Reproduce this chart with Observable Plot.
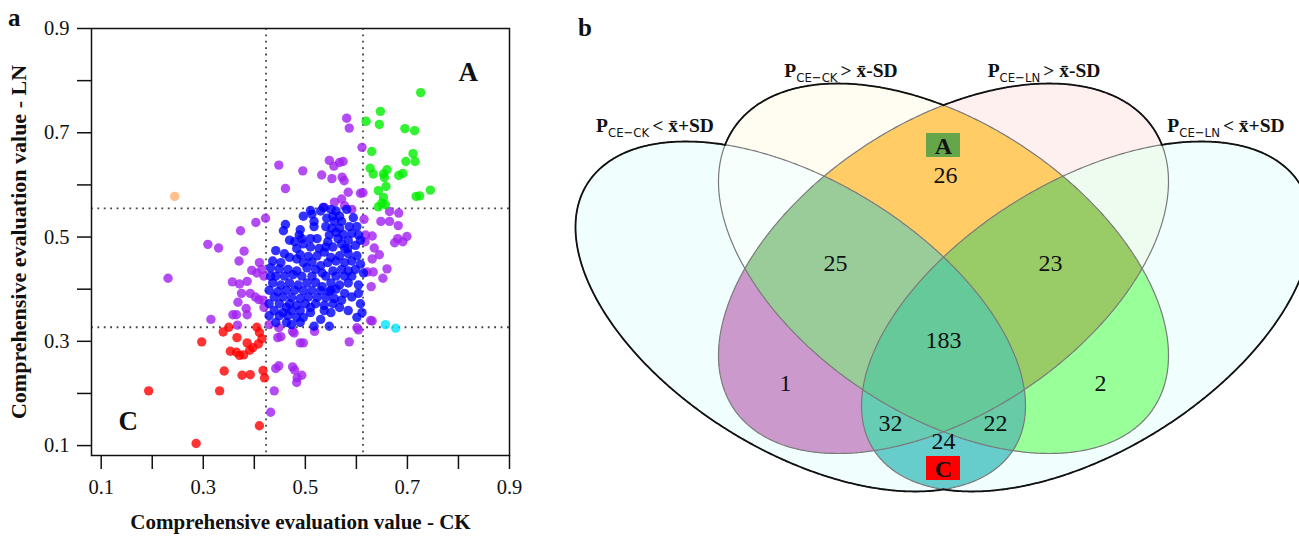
<!DOCTYPE html>
<html><head><meta charset="utf-8">
<script src="https://cdn.jsdelivr.net/npm/d3@7"></script>
<script src="https://cdn.jsdelivr.net/npm/@observablehq/plot@0.6"></script>
<style>
body{margin:0;background:#fff;}
#wrap{position:relative;width:1299px;height:537px;overflow:hidden;font-family:"Liberation Serif","Times New Roman",serif;color:#111;}
#pa{position:absolute;left:0;top:0;}
#pb{position:absolute;left:560px;top:0;}
.lbl{position:absolute;transform:translate(-50%,-50%);white-space:nowrap;font-weight:bold;font-size:19.5px;}
.sub{font-family:"DejaVu Sans Condensed","Liberation Sans Narrow","Liberation Sans",sans-serif;font-weight:normal;font-size:13px;position:relative;top:5px;margin-right:3px;}
.panel{position:absolute;font-weight:bold;font-size:25px;}
</style></head>
<body><div id="wrap"><div id="pa"></div><div id="pb"></div></div>
<script>
// ---------- Panel a data: [CK value, LN value] ----------
const bluePts = [
[0.510,0.551],[0.496,0.540],[0.513,0.544],[0.535,0.557],[0.550,0.553],[0.560,0.550],[0.581,0.553],[0.554,0.540],[0.567,0.540],[0.542,0.536],[0.557,0.530],[0.517,0.530],
[0.461,0.524],[0.457,0.512],[0.490,0.514],[0.488,0.504],[0.517,0.520],[0.540,0.520],[0.552,0.517],[0.567,0.517],[0.586,0.520],[0.601,0.520],[0.604,0.504],[0.591,0.507],[0.574,0.505],[0.560,0.509],[0.547,0.504],[0.493,0.497],
[0.510,0.497],[0.523,0.497],[0.496,0.487],[0.469,0.494],[0.483,0.478],[0.510,0.481],[0.527,0.478],[0.540,0.481],[0.554,0.481],[0.571,0.487],[0.584,0.494],[0.608,0.494],[0.598,0.484],[0.583,0.478],[0.564,0.497],
[0.442,0.474],[0.459,0.468],[0.469,0.461],[0.490,0.466],[0.506,0.463],[0.523,0.464],[0.537,0.471],[0.550,0.461],[0.567,0.464],[0.584,0.468],[0.601,0.464],[0.436,0.454],[0.452,0.451],[0.496,0.451],[0.513,0.452],[0.544,0.451],[0.560,0.454],[0.577,0.451],[0.591,0.454],[0.608,0.448],
[0.432,0.441],[0.449,0.439],[0.466,0.438],[0.483,0.435],[0.503,0.441],[0.520,0.438],[0.533,0.431],[0.554,0.435],[0.571,0.438],[0.584,0.435],[0.598,0.438],[0.442,0.425],[0.459,0.425],[0.476,0.428],[0.493,0.425],[0.513,0.425],[0.540,0.425],[0.560,0.425],[0.577,0.425],
[0.436,0.412],[0.452,0.408],[0.469,0.412],[0.486,0.408],[0.503,0.412],[0.520,0.413],[0.533,0.405],[0.550,0.412],[0.567,0.408],[0.584,0.412],[0.604,0.408],[0.429,0.398],[0.446,0.395],[0.463,0.398],[0.479,0.398],[0.496,0.397],[0.513,0.398],[0.530,0.397],[0.547,0.395],[0.560,0.400],
[0.439,0.385],[0.456,0.385],[0.473,0.384],[0.490,0.382],[0.506,0.385],[0.523,0.384],[0.540,0.384],[0.557,0.382],[0.571,0.379],[0.429,0.372],[0.449,0.372],[0.469,0.372],[0.483,0.369],[0.500,0.372],[0.520,0.372],[0.537,0.369],[0.554,0.372],[0.608,0.372],
[0.439,0.359],[0.456,0.355],[0.473,0.359],[0.490,0.359],[0.510,0.355],[0.537,0.359],[0.550,0.355],[0.611,0.355],[0.429,0.349],[0.449,0.349],[0.466,0.349],[0.483,0.346],[0.530,0.342],[0.601,0.346],[0.442,0.336],[0.463,0.336],[0.490,0.336],[0.517,0.329],[0.547,0.329],[0.473,0.332],
[0.530,0.550],[0.571,0.530],[0.594,0.537],[0.479,0.491],[0.544,0.491],[0.577,0.478],[0.483,0.458],[0.530,0.445],[0.614,0.431],[0.432,0.425],[0.550,0.398],[0.577,0.392],[0.591,0.385],[0.463,0.365],[0.510,0.365],[0.496,0.346],[0.567,0.365],[0.584,0.359],[0.604,0.392],[0.591,0.425]
];
const purplePts = [
[0.581,0.728],[0.586,0.709],[0.611,0.672],[0.448,0.638],[0.495,0.627],[0.547,0.647],[0.556,0.636],[0.567,0.643],[0.574,0.645],[0.532,0.619],[0.552,0.612],[0.572,0.615],[0.576,0.608],[0.461,0.593],[0.584,0.586],[0.608,0.584],[0.613,0.585],[0.557,0.567],[0.571,0.573],[0.577,0.560],[0.537,0.557],[0.591,0.553],
[0.422,0.536],[0.403,0.528],[0.373,0.512],[0.309,0.486],[0.330,0.479],[0.380,0.473],[0.370,0.454],[0.410,0.451],[0.231,0.421],[0.357,0.414],[0.371,0.410],[0.386,0.415],[0.395,0.436],[0.405,0.431],[0.392,0.392],[0.402,0.385],[0.409,0.380],[0.368,0.375],[0.384,0.363],[0.386,0.351],[0.358,0.351],[0.365,0.351],[0.315,0.342],[0.367,0.331],[0.415,0.438],[0.417,0.379],[0.419,0.365],[0.375,0.392],[0.419,0.425],
[0.615,0.534],[0.631,0.502],[0.648,0.530],[0.665,0.530],[0.683,0.546],[0.665,0.549],[0.682,0.522],[0.699,0.501],[0.691,0.491],[0.675,0.489],[0.681,0.497],[0.645,0.466],[0.635,0.479],[0.631,0.458],[0.621,0.433],[0.633,0.433],[0.652,0.421],[0.660,0.439],[0.629,0.405],[0.628,0.340],[0.631,0.339],[0.604,0.322],[0.586,0.299],[0.617,0.491],[0.618,0.504],
[0.448,0.326],[0.452,0.309],[0.446,0.307],[0.475,0.319],[0.478,0.316],[0.518,0.319],[0.490,0.297],[0.496,0.297],[0.442,0.248],[0.448,0.253],[0.475,0.251],[0.479,0.245],[0.484,0.230],[0.483,0.221],[0.493,0.235],[0.439,0.205],[0.432,0.164],[0.601,0.326],[0.429,0.332]
];
const greenPts = [
[0.726,0.777],[0.619,0.722],[0.647,0.741],[0.645,0.716],[0.695,0.708],[0.714,0.704],[0.630,0.664],[0.711,0.660],[0.697,0.645],[0.715,0.645],[0.627,0.632],[0.633,0.621],[0.653,0.621],[0.660,0.629],[0.655,0.614],[0.683,0.618],[0.691,0.622],[0.658,0.597],[0.745,0.590],[0.717,0.578],[0.724,0.579],[0.653,0.576],[0.650,0.565],[0.643,0.558],[0.657,0.562],[0.643,0.589]
];
const redPts = [
[0.350,0.327],[0.339,0.318],[0.366,0.307],[0.297,0.299],[0.405,0.327],[0.410,0.317],[0.415,0.305],[0.408,0.295],[0.397,0.288],[0.386,0.297],[0.353,0.281],[0.371,0.273],[0.379,0.274],[0.391,0.283],[0.341,0.243],[0.376,0.235],[0.392,0.236],[0.417,0.244],[0.420,0.230],[0.193,0.205],[0.332,0.205],[0.410,0.138],[0.286,0.104],[0.365,0.279]
];
const orangePts = [[0.244,0.578]];
const cyanPts = [[0.657,0.332],[0.677,0.325]];

const thresholdsCK = [0.423, 0.613];
const thresholdsLN = [0.555, 0.327];
const axisTicks = [0.1,0.2,0.3,0.4,0.5,0.6,0.7,0.8,0.9];
const axisTickLabels = [0.1,0.3,0.5,0.7,0.9];
const cornerLabels = [{label:"A", ck:0.819, ln:0.815}, {label:"C", ck:0.153, ln:0.147}];

// ---------- Panel b data ----------
const vennCounts = [
 {label:"26", x:385, y:175}, {label:"25", x:275, y:263}, {label:"23", x:490, y:263},
 {label:"183", x:383, y:340}, {label:"1", x:225, y:383}, {label:"2", x:540, y:383},
 {label:"32", x:330, y:423}, {label:"22", x:435, y:423}, {label:"24", x:383, y:441}
];
const vennBoxes = [{label:"A", x:383, y:145, fill:"#66a64a"}, {label:"C", x:383, y:468, fill:"#ff0000"}];
const vennSetLabels = [
 {sub:"CE\u2212CK", rel:"> x\u0304-SD", x:281, y:71},
 {sub:"CE\u2212LN", rel:"> x\u0304-SD", x:484, y:71},
 {sub:"CE\u2212CK", rel:"< x\u0304+SD", x:95, y:126},
 {sub:"CE\u2212LN", rel:"< x\u0304+SD", x:666, y:126}
];
// ellipse geometry (panel-local units): centre, x half-extent, y half-extent, tilt
const vennEllipses = [
 {cx:240, cy:316, rx:225, ry:175, k:0.51},
 {cx:383, cy:268, rx:225, ry:185, k:0.47},
 {cx:383, cy:268, rx:225, ry:185, k:-0.47},
 {cx:526, cy:316, rx:225, ry:175, k:-0.51}
];
const regionFill = {
 "0000":"#ffffff","1000":"#f0fefe","0001":"#f0fefe","0100":"#fffdf1","0010":"#fff0f0",
 "1100":"#f6fffb","0011":"#eefcef","1010":"#cc99cc","0101":"#99ff99","0110":"#ffcc66",
 "1110":"#99cc99","0111":"#99cc66","1111":"#66c999","1001":"#66cccc","1011":"#66ccb3","1101":"#66cba6"
};

// ---------- Panel a ----------
const groups = [
 {pts:purplePts, color:"#a020f0"}, {pts:bluePts, color:"#0000ff"}, {pts:greenPts, color:"#00ee00"},
 {pts:redPts, color:"#ff0000"}, {pts:orangePts, color:"#ffb070"}, {pts:cyanPts, color:"#00e5ff"}
];
const points = groups.flatMap(g => g.pts.map(([ck, ln]) => ({ck, ln, color:g.color})));
const serif = "Liberation Serif, Times New Roman, serif";

const plotA = Plot.plot({
 width:560, height:537, marginLeft:91, marginRight:51, marginTop:28, marginBottom:82,
 x:{domain:[0.081,0.9], label:null}, y:{domain:[0.081,0.9], label:null},
 color:{type:"identity"},
 style:{fontFamily:serif, fontSize:"20px", color:"#111", background:"transparent"},
 marks:[
  Plot.ruleX(thresholdsCK, {stroke:"#444", strokeWidth:1.8, strokeDasharray:"1.8,4.6"}),
  Plot.ruleY(thresholdsLN, {stroke:"#444", strokeWidth:1.8, strokeDasharray:"1.8,4.6"}),
  Plot.dot(points, {x:"ck", y:"ln", r:4.7, fill:"color", fillOpacity:0.8, stroke:null}),
  Plot.frame({stroke:"#111", strokeWidth:1.5}),
  Plot.axisX({ticks:axisTicks, tickFormat:d => axisTickLabels.includes(d) ? d.toFixed(1) : "", tickSize:14, tickPadding:10, strokeWidth:1.5, fontSize:20.5, label:null}),
  Plot.axisY({ticks:axisTicks, tickFormat:d => axisTickLabels.includes(d) ? d.toFixed(1) : "", tickSize:14, tickPadding:8, strokeWidth:1.5, fontSize:20.5, label:null}),
  Plot.text(["Comprehensive evaluation value - CK"], {frameAnchor:"bottom", dy:67, textAnchor:"middle", lineAnchor:"middle", fontWeight:"bold", fontSize:21}),
  Plot.text(["Comprehensive evaluation value - LN"], {frameAnchor:"left", dx:-73, textAnchor:"middle", lineAnchor:"middle", rotate:-90, fontWeight:"bold", fontSize:22}),
  Plot.text(cornerLabels, {x:"ck", y:"ln", text:"label", fontWeight:"bold", fontSize:27})
 ]
});
// enlarge tick label text to match the reference
d3.select(plotA).selectAll("g[aria-label$='tick label']").attr("font-size", 20.5).style("font-size", "20.5px")
  .selectAll("text").style("font-size", "20.5px");
document.getElementById("pa").appendChild(plotA);

// ---------- Panel b ----------
function level(e, x, y) {
 const c = (x - e.cx) / e.rx, s = Math.sqrt(1 - e.k * e.k);
 const v = ((y - e.cy) / e.ry - e.k * c) / s;
 return c * c + v * v;
}
function region(x, y) {
 const key = vennEllipses.map(e => level(e, x, y) <= 1 ? "1" : "0").join("");
 return regionFill[key];
}
const outline = vennEllipses.flatMap((e, id) => d3.range(0, 721).map(i => {
 const t = i * Math.PI / 360, s = Math.sqrt(1 - e.k * e.k);
 const x = e.cx + e.rx * Math.cos(t), y = e.cy + e.ry * (e.k * Math.cos(t) + s * Math.sin(t));
 const covered = vennEllipses.some((o, j) => j !== id && level(o, x, y) < 0.995);
 return {id, x, y, yOuter: covered ? NaN : y};
}));

const W = 739, H = 537;
const plotB = Plot.plot({
 width:W, height:H, margin:0,
 x:{domain:[0, W], axis:null}, y:{domain:[H, 0], axis:null},
 color:{type:"identity"},
 style:{fontFamily:serif, background:"transparent", color:"#111"},
 marks:[
  Plot.raster({fill:(x, y) => region(x, y), x1:0, x2:W, y1:0, y2:H}),
  Plot.line(outline, {x:"x", y:"y", z:"id", stroke:"#7a7a7a", strokeWidth:1.2}),
  Plot.line(outline, {x:"x", y:"yOuter", z:"id", stroke:"#111", strokeWidth:1.8}),
  Plot.text(vennCounts, {x:"x", y:"y", text:"label", fontSize:24, fill:"#111"}),
  Plot.rect(vennBoxes, {x1:d => d.x - 17, x2:d => d.x + 17, y1:d => d.y - 12, y2:d => d.y + 12, fill:"fill"}),
  Plot.text(vennBoxes, {x:"x", y:"y", text:"label", fontSize:24, fontWeight:"bold", fill:"#111", dy:1})
 ]
});
document.getElementById("pb").appendChild(plotB);

// header labels and panel letters (HTML text)
const wrap = document.getElementById("wrap");
for (const d of vennSetLabels) {
 const el = document.createElement("div");
 el.className = "lbl";
 el.style.left = (560 + d.x) + "px"; el.style.top = d.y + "px";
 el.innerHTML = `P<span class="sub">${d.sub}</span>${d.rel}`;
 wrap.appendChild(el);
}
for (const [t, x, y] of [["a", 8, 4], ["b", 578, 14]]) {
 const el = document.createElement("div");
 el.className = "panel"; el.textContent = t;
 el.style.left = x + "px"; el.style.top = y + "px";
 wrap.appendChild(el);
}
</script>
</body></html>
